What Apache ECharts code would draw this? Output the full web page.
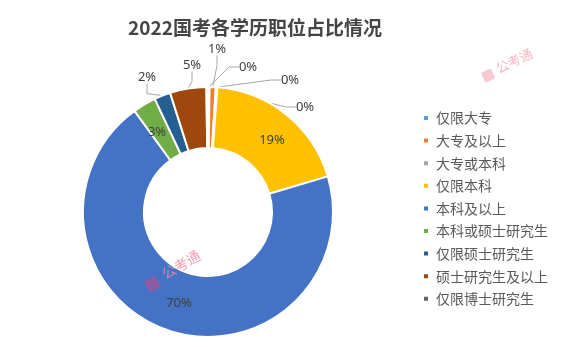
<!DOCTYPE html>
<html>
<head>
<meta charset="utf-8">
<script src="https://cdn.jsdelivr.net/npm/echarts@6/dist/echarts.min.js"></script>
<style>
html,body{margin:0;padding:0;background:#fff;}
#c{width:577px;height:347px;}
</style>
</head>
<body>
<div id="c"></div>
<script>
// ---- data ----
const categories = ['仅限大专','大专及以上','大专或本科','仅限本科','本科及以上','本科或硕士研究生','仅限硕士研究生','硕士研究生及以上','仅限博士研究生'];
const values = [0.2, 0.8, 0.2, 19.2, 69.6, 3.0, 2.1, 4.7, 0.2];
const titleText = '2022国考各学历职位占比情况';

// ---- styles (not data) ----
const colors = ['#5B9BD5','#ED7D31','#A5A5A5','#FFC000','#4472C4','#70AD47','#255E91','#9E480E','#636363'];
// label anchor positions (label placement style), one per category
const labelPos = [[248,67],[217,49],[290,80],[272,140],[179,303],[157,132],[147,77],[192,65],[305,107]];
const insideLabel = [false,false,false,true,true,true,false,false,false];

const chart = echarts.init(document.getElementById('c'), null, {renderer:'canvas'});

const seriesData = categories.map((name, i) => ({
  name: name,
  value: values[i],
  itemStyle: { color: colors[i] },
  labelLine: { show: !insideLabel[i] }
}));

chart.setOption({
  animation: false,
  backgroundColor: '#ffffff',
  title: {
    text: titleText,
    left: 250,
    textAlign: 'center',
    top: 13,
    textStyle: { fontFamily: 'Noto Sans CJK SC', fontWeight: 'bold', fontSize: 19, color: '#444444' }
  },
  legend: {
    orient: 'vertical',
    left: 417,
    top: 106,
    itemWidth: 6,
    itemHeight: 6,
    itemGap: 8.6,
    icon: 'rect',
    data: categories,
    textStyle: { fontFamily: 'Noto Sans CJK SC', fontSize: 14, color: '#595959', lineHeight: 14, padding: [0,0,0,2] }
  },
  graphic: [
    { type: 'group', x: 505, y: 68, z: 100, rotation: Math.PI/7, children: [
      { type: 'rect', z: 100, shape: { x: -24, y: -6, width: 11, height: 11, r: 2 }, style: { fill: '#f3a5b5', opacity: 0.6 } },
      { type: 'text', z: 100, style: { x: -8, y: -9, text: '公考通', fontSize: 13, fill: '#f3a5b5', opacity: 0.8, fontFamily: 'Noto Sans CJK SC' } }
    ]},
    { type: 'group', x: 176, y: 270, z: 100, rotation: Math.PI/6, children: [
      { type: 'rect', z: 100, shape: { x: -34, y: -6, width: 13, height: 13, r: 2 }, style: { fill: '#a0559a', opacity: 0.75 } },
      { type: 'text', z: 100, style: { x: -14, y: -9, text: '公考通', fontSize: 14, fill: '#f08ca2', opacity: 0.85, fontFamily: 'Noto Sans CJK SC' } }
    ]}
  ],
  series: [{
    type: 'pie',
    center: [208, 212],
    radius: [64, 125],
    startAngle: 90,
    clockwise: true,
    avoidLabelOverlap: false,
    minAngle: 0,
    itemStyle: { borderColor: '#ffffff', borderWidth: 2 },
    label: {
      show: true,
      position: 'outside',
      fontFamily: 'Noto Sans',
      fontSize: 13,
      color: '#404040',
      formatter: p => Math.round(p.value) + '%'
    },
    labelLine: { show: true, length: 10, length2: 10, lineStyle: { color: '#a6a6a6', width: 1 } },
    labelLayout: function (params) {
      const p = labelPos[params.dataIndex];
      return { x: p[0], y: p[1], align: 'center', verticalAlign: 'middle' };
    },
    emphasis: { disabled: true },
    data: seriesData
  }]
});
</script>
</body>
</html>
